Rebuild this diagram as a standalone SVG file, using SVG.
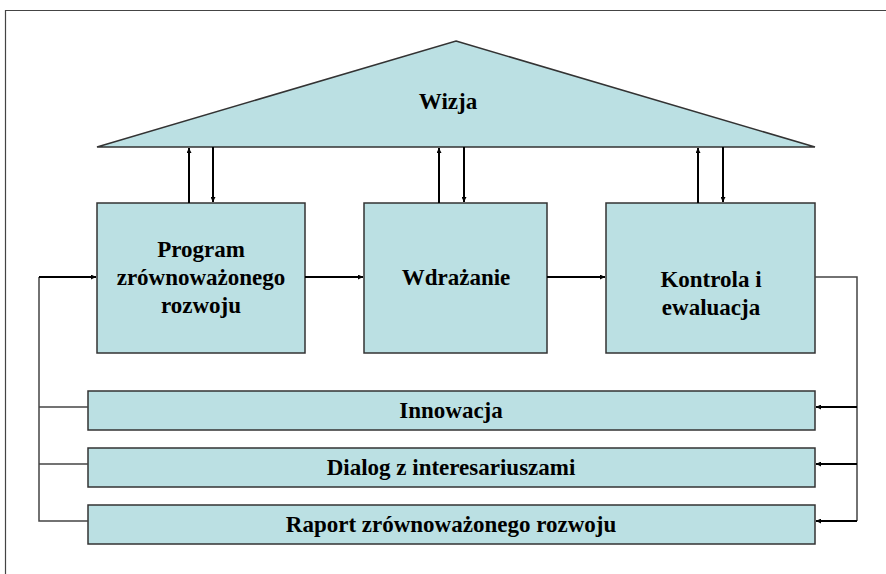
<svg xmlns="http://www.w3.org/2000/svg" width="886" height="574" viewBox="0 0 886 574">
<defs>
<marker id="ah" viewBox="0 0 10 10" refX="10" refY="5" markerWidth="5" markerHeight="5" orient="auto" markerUnits="userSpaceOnUse">
<path d="M0,0 L10,5 L0,10 z" fill="#000"/>
</marker>
</defs>
<rect x="0" y="0" width="886" height="574" fill="#fff"/>
<path d="M5.5,600 V10.5 H900" fill="none" stroke="#444" stroke-width="1.2"/>
<g fill="#bbe0e3" stroke="#333" stroke-width="1.5">
<g id="wizja"><polygon points="456,41 815,147 97,147"/></g>
<g id="program"><rect x="97" y="203" width="208" height="150"/></g>
<g id="wdrazanie"><rect x="364" y="203" width="183" height="150"/></g>
<g id="kontrola"><rect x="606" y="203" width="209" height="150"/></g>
<g id="innowacja"><rect x="88" y="391" width="727" height="39"/></g>
<g id="dialog"><rect x="88" y="448" width="727" height="39"/></g>
<g id="raport"><rect x="88" y="505" width="727" height="39"/></g>
</g>
<g id="labels">
<text x="448" y="109" style="font-family:'Liberation Serif';font-weight:bold;font-size:23px;text-anchor:middle">Wizja</text>
<text x="201" y="257" style="font-family:'Liberation Serif';font-weight:bold;font-size:23px;text-anchor:middle">Program</text>
<text x="201" y="285" style="font-family:'Liberation Serif';font-weight:bold;font-size:23px;text-anchor:middle">zrównoważonego</text>
<text x="201" y="313" style="font-family:'Liberation Serif';font-weight:bold;font-size:23px;text-anchor:middle">rozwoju</text>
<text x="456" y="285" style="font-family:'Liberation Serif';font-weight:bold;font-size:23px;text-anchor:middle">Wdrażanie</text>
<text x="711" y="287" style="font-family:'Liberation Serif';font-weight:bold;font-size:23px;text-anchor:middle">Kontrola i</text>
<text x="711" y="315" style="font-family:'Liberation Serif';font-weight:bold;font-size:23px;text-anchor:middle">ewaluacja</text>
<text x="451" y="418" style="font-family:'Liberation Serif';font-weight:bold;font-size:23px;text-anchor:middle">Innowacja</text>
<text x="451" y="475" style="font-family:'Liberation Serif';font-weight:bold;font-size:23px;text-anchor:middle">Dialog z interesariuszami</text>
<text x="451" y="532" style="font-family:'Liberation Serif';font-weight:bold;font-size:23px;text-anchor:middle">Raport zrównoważonego rozwoju</text>
</g>
<g id="connectors" fill="none" stroke="#000" stroke-width="2">
<line x1="189" y1="203" x2="189" y2="148" marker-end="url(#ah)"/>
<line x1="213" y1="147" x2="213" y2="202" marker-end="url(#ah)"/>
<line x1="439" y1="203" x2="439" y2="148" marker-end="url(#ah)"/>
<line x1="464" y1="147" x2="464" y2="202" marker-end="url(#ah)"/>
<line x1="698" y1="203" x2="698" y2="148" marker-end="url(#ah)"/>
<line x1="723" y1="147" x2="723" y2="202" marker-end="url(#ah)"/>
<line x1="305" y1="277" x2="363" y2="277" marker-end="url(#ah)"/>
<line x1="547" y1="277" x2="605" y2="277" marker-end="url(#ah)"/>
<path d="M815,277 H857 V521" stroke="#444" stroke-width="1.5"/>
<line x1="857" y1="407" x2="816" y2="407" marker-end="url(#ah)"/>
<line x1="857" y1="464" x2="816" y2="464" marker-end="url(#ah)"/>
<line x1="857" y1="521" x2="816" y2="521" marker-end="url(#ah)"/>
<path d="M88,521 H39 V277" stroke="#444" stroke-width="1.5"/>
<path d="M88,464 H39" stroke="#444" stroke-width="1.5"/>
<path d="M88,407 H39" stroke="#444" stroke-width="1.5"/>
<line x1="39" y1="277" x2="96" y2="277" marker-end="url(#ah)"/>
</g>
</svg>
